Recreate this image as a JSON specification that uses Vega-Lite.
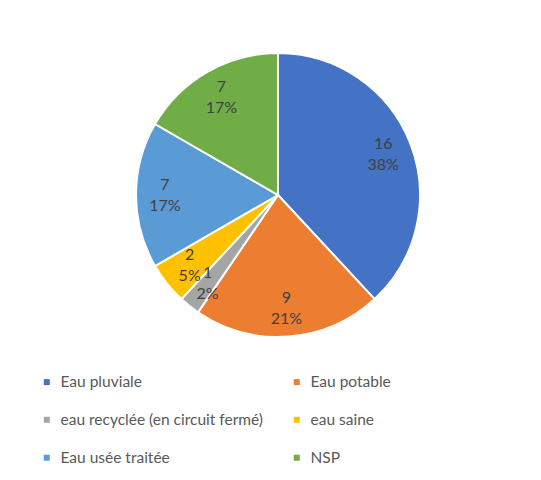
{
  "$schema": "https://vega.github.io/schema/vega-lite/v6.json",
  "width": 556,
  "height": 390,
  "autosize": "none",
  "padding": {"left": 0, "top": 0, "right": 0, "bottom": 90},
  "background": "white",
  "data": {
    "values": [
      {"cat": "Eau pluviale", "n": 16, "pct": "38%", "ord": 1},
      {"cat": "Eau potable", "n": 9, "pct": "21%", "ord": 2},
      {"cat": "eau recyclée (en circuit fermé)", "n": 1, "pct": "2%", "ord": 3},
      {"cat": "eau saine", "n": 2, "pct": "5%", "ord": 4},
      {"cat": "Eau usée traitée", "n": 7, "pct": "17%", "ord": 5},
      {"cat": "NSP", "n": 7, "pct": "17%", "ord": 6}
    ]
  },
  "encoding": {
    "theta": {"field": "n", "type": "quantitative", "stack": true},
    "order": {"field": "ord", "type": "quantitative"}
  },
  "layer": [
    {
      "mark": {"type": "arc", "outerRadius": 142, "stroke": "white", "strokeWidth": 2},
      "encoding": {
        "color": {
          "field": "cat",
          "type": "nominal",
          "scale": {
            "domain": ["Eau pluviale", "Eau potable", "eau recyclée (en circuit fermé)", "eau saine", "Eau usée traitée", "NSP"],
            "range": ["#4472C4", "#ED7D31", "#A5A5A5", "#FFC000", "#5B9BD5", "#70AD47"]
          },
          "legend": {
            "orient": "none",
            "direction": "horizontal",
            "legendX": 39,
            "legendY": 374,
            "columns": 2,
            "columnPadding": 25,
            "rowPadding": 21,
            "symbolType": "square",
            "symbolSize": 36,
            "symbolStrokeWidth": 0,
            "labelFont": "Lato",
            "labelFontSize": 15.5,
            "labelColor": "#595959",
            "labelOffset": 6,
            "labelLimit": 400,
            "title": null,
            "padding": 0
          }
        }
      }
    },
    {
      "mark": {"type": "text", "radius": 113, "dy": -10, "font": "Lato", "fontSize": 16, "color": "#404040"},
      "encoding": {
        "detail": {"field": "cat", "type": "nominal"},
        "text": {"field": "n", "type": "quantitative"}
      }
    },
    {
      "mark": {"type": "text", "radius": 113, "dy": 11, "font": "Lato", "fontSize": 16, "color": "#404040"},
      "encoding": {
        "detail": {"field": "cat", "type": "nominal"},
        "text": {"field": "pct", "type": "nominal"}
      }
    }
  ]
}
